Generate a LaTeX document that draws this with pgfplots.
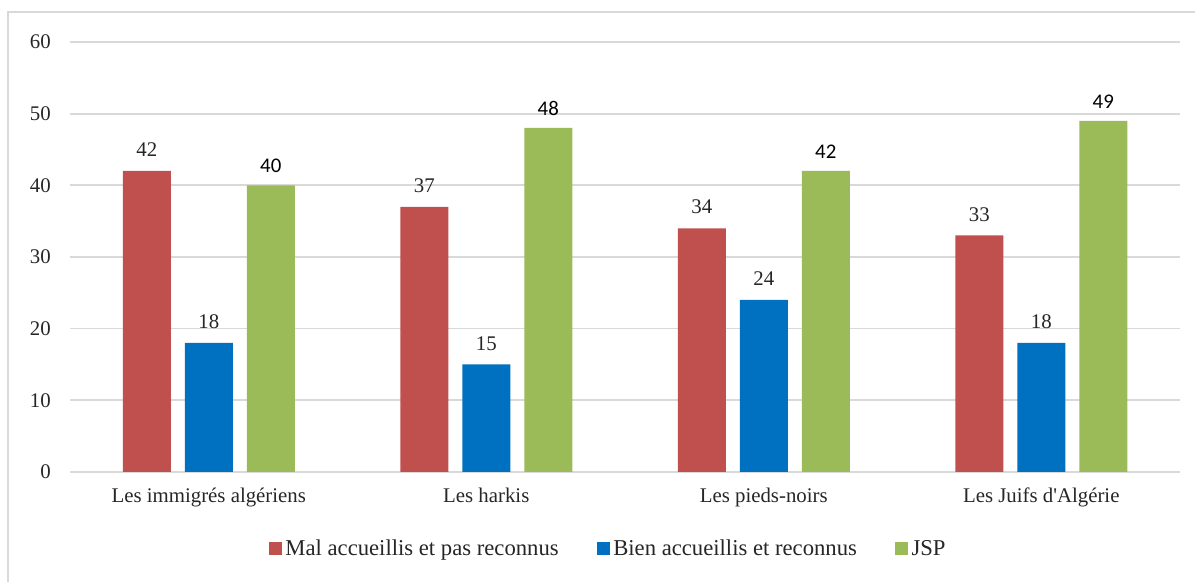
\documentclass[border=0pt]{standalone}
\usepackage{fontspec}
\setmainfont{Liberation Serif}
\newfontfamily\calibri{Carlito}
\usepackage{pgfplots}
\pgfplotsset{compat=1.18}
\definecolor{malred}{HTML}{C0504D}
\definecolor{bienblue}{HTML}{0070C0}
\definecolor{jspgreen}{HTML}{9BBB59}
\definecolor{gridgray}{HTML}{D9D9D9}

\begin{document}
\begin{tikzpicture}
\begin{axis}[
  scale only axis,
  width=666pt, height=258pt,
  xmin=-0.5, xmax=3.5,
  ymin=0, ymax=60,
  ytick={0,10,...,60},
  xtick=data,
  xticklabels={Les immigrés algériens, Les harkis, Les pieds-noirs, Les Juifs d\textquotesingle Algérie},
  ybar=8.4pt, bar width=28.8pt,
  axis x line*=bottom, axis y line*=left,
  x axis line style={gridgray, line width=1pt, -},
  y axis line style={draw=none},
  ymajorgrids, grid style={gridgray, line width=1pt},
  major tick length=0pt,
  tick label style={font=\rmfamily\fontsize{12.5}{14}\selectfont, text=black!85},
  /pgf/number format/assume math mode=true,
  yticklabel style={xshift=-8pt},
  xticklabel style={yshift=-6pt},
  clip=false,
  nodes near coords,
  every node near coord/.append style={font=\rmfamily\fontsize{12.5}{14}\selectfont, text=black!85, yshift=5pt},
  legend style={at={(0.4856,-0.179)}, anchor=center, draw=none, legend columns=-1,
    font=\rmfamily\fontsize{13.6}{15}\selectfont, text=black!85,
    /tikz/every even column/.append style={column sep=21pt}},
  legend image code/.code={\fill[#1] (0pt,-3.9pt) rectangle (7.8pt,3.9pt);},
]
\addplot[fill=malred, draw=none] coordinates {(0,42) (1,37) (2,34) (3,33)};
\addlegendentry{Mal accueillis et pas reconnus}
\addplot[fill=bienblue, draw=none] coordinates {(0,18) (1,15) (2,24) (3,18)};
\addlegendentry{Bien accueillis et reconnus}
\addplot[fill=jspgreen, draw=none, every node near coord/.append style={font=\calibri\fontsize{12.5}{14}\selectfont, text=black, yshift=-1pt}]
  coordinates {(0,40) (1,48) (2,42) (3,49)};
\addlegendentry{JSP}
\draw[gridgray, line width=1pt] (rel axis cs:-0.0559,-0.2558) -- (rel axis cs:-0.0559,1.0698) -- (rel axis cs:1.0135,1.0698);
\coordinate (bl) at (rel axis cs:-0.0631,-0.2558);
\coordinate (tr) at (rel axis cs:1.0135,1.0977);
\end{axis}
\pgfresetboundingbox
\path (bl) rectangle (tr);
\end{tikzpicture}
\end{document}
